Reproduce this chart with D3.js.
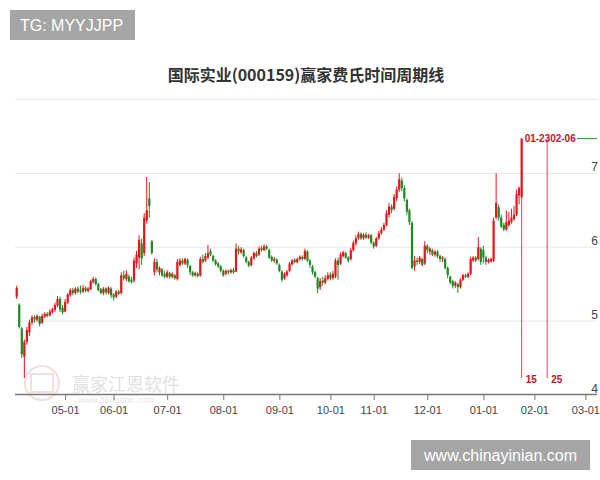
<!DOCTYPE html>
<html>
<head>
<meta charset="utf-8">
<script src="https://cdn.jsdelivr.net/npm/d3@7"></script>
<style>
    body { margin: 0; background: #fff; }
    svg { display: block; font-family: "Liberation Sans", Arial, sans-serif; }
</style>
</head>
<body>
<div id="chart"></div>
<script>
// daily candles by trading-day index: [open, high, low, close]
const candles = [
    [5.33,5.48,5.30,5.45],[5.22,5.24,4.90,4.92],[4.90,4.92,4.50,4.55],[4.52,4.75,4.23,4.72],[4.72,4.92,4.68,4.88],
    [4.85,5.02,4.80,4.98],[4.98,5.08,4.95,5.05],[5.06,5.08,4.98,5.02],[5.02,5.09,4.99,5.07],[5.06,5.07,4.93,4.96],
    [4.98,5.10,4.96,5.07],[5.06,5.12,5.04,5.10],[5.10,5.12,5.05,5.07],[5.08,5.16,5.06,5.13],[5.12,5.18,5.10,5.16],
    [5.15,5.25,5.12,5.22],[5.21,5.34,5.19,5.30],[5.30,5.33,5.12,5.16],[5.18,5.22,5.09,5.12],[5.13,5.30,5.12,5.26],
    [5.25,5.38,5.23,5.36],[5.35,5.45,5.33,5.42],[5.42,5.45,5.35,5.38],[5.38,5.46,5.36,5.44],[5.44,5.47,5.38,5.40],
    [5.42,5.48,5.37,5.40],[5.40,5.49,5.38,5.45],[5.45,5.47,5.39,5.41],[5.41,5.46,5.39,5.44],[5.43,5.56,5.42,5.54],
    [5.53,5.60,5.51,5.57],[5.57,5.59,5.48,5.50],[5.50,5.52,5.40,5.42],[5.43,5.45,5.36,5.38],[5.38,5.46,5.35,5.44],
    [5.44,5.46,5.36,5.39],[5.38,5.47,5.36,5.45],[5.44,5.46,5.31,5.35],[5.36,5.38,5.28,5.32],[5.33,5.42,5.31,5.40],
    [5.40,5.42,5.35,5.37],[5.38,5.66,5.36,5.62],[5.62,5.68,5.55,5.58],[5.57,5.69,5.54,5.64],[5.60,5.63,5.52,5.54],
    [5.56,5.60,5.51,5.53],[5.55,5.86,5.52,5.82],[5.78,5.95,5.72,5.90],[5.86,6.16,5.70,6.10],[6.05,6.12,5.76,5.85],
    [5.92,6.46,5.88,6.40],[6.36,6.95,6.32,6.50],[6.66,6.88,6.40,6.56],[6.08,6.10,5.90,5.92],[5.66,5.85,5.62,5.80],
    [5.80,5.84,5.66,5.70],[5.66,5.74,5.62,5.72],[5.70,5.72,5.60,5.62],[5.64,5.68,5.58,5.60],[5.60,5.69,5.58,5.66],
    [5.65,5.67,5.57,5.60],[5.60,5.66,5.58,5.64],[5.62,5.64,5.56,5.58],[5.57,5.84,5.55,5.80],[5.76,5.85,5.74,5.82],
    [5.82,5.85,5.76,5.78],[5.78,5.86,5.76,5.84],[5.83,5.85,5.72,5.76],[5.75,5.76,5.62,5.66],[5.66,5.68,5.60,5.62],
    [5.62,5.67,5.60,5.65],[5.64,5.66,5.59,5.61],[5.62,5.87,5.60,5.84],[5.84,5.90,5.78,5.80],[5.82,5.92,5.80,5.88],
    [5.86,6.03,5.84,5.92],[5.95,5.98,5.88,5.90],[5.88,5.90,5.80,5.82],[5.82,5.84,5.75,5.77],[5.78,5.80,5.72,5.74],
    [5.74,5.76,5.66,5.68],[5.68,5.70,5.60,5.62],[5.64,5.70,5.62,5.68],[5.68,5.70,5.63,5.66],[5.66,5.71,5.64,5.69],
    [5.69,5.72,5.64,5.66],[5.67,6.05,5.66,5.98],[5.98,6.02,5.90,5.94],[5.93,6.00,5.91,5.97],[5.96,5.98,5.86,5.88],
    [5.86,5.88,5.78,5.80],[5.80,5.82,5.73,5.75],[5.76,5.88,5.74,5.86],[5.85,5.94,5.83,5.92],[5.92,5.95,5.86,5.88],
    [5.90,6.01,5.88,5.98],[5.99,6.02,5.94,5.96],[5.96,6.04,5.95,6.01],[6.01,6.03,5.96,5.98],[5.96,5.98,5.84,5.86],
    [5.87,5.89,5.80,5.82],[5.82,5.87,5.79,5.84],[5.83,5.85,5.76,5.78],[5.76,5.78,5.66,5.68],[5.67,5.69,5.53,5.56],
    [5.58,5.66,5.56,5.64],[5.62,5.69,5.60,5.67],[5.68,5.80,5.66,5.78],[5.77,5.84,5.75,5.82],[5.83,5.85,5.78,5.80],
    [5.80,5.86,5.78,5.84],[5.84,5.89,5.82,5.87],[5.87,5.89,5.82,5.84],[5.84,5.98,5.83,5.95],[5.94,5.96,5.80,5.82],
    [5.82,5.84,5.72,5.76],[5.74,5.76,5.63,5.66],[5.66,5.68,5.58,5.60],[5.58,5.60,5.38,5.44],[5.46,5.58,5.42,5.54],
    [5.55,5.60,5.48,5.52],[5.52,5.62,5.50,5.58],[5.57,5.66,5.55,5.62],[5.63,5.66,5.55,5.58],[5.58,5.68,5.56,5.64],
    [5.60,5.85,5.58,5.82],[5.82,5.86,5.56,5.76],[5.78,5.93,5.76,5.90],[5.88,5.95,5.86,5.93],[5.92,5.94,5.84,5.86],
    [5.86,5.88,5.79,5.82],[5.84,5.99,5.82,5.96],[5.96,6.09,5.94,6.06],[6.05,6.16,6.02,6.12],[6.12,6.21,6.10,6.18],
    [6.18,6.20,6.10,6.12],[6.12,6.19,6.10,6.17],[6.17,6.20,6.11,6.13],[6.13,6.18,6.11,6.16],[6.16,6.18,6.04,6.06],
    [6.06,6.08,5.98,6.01],[6.02,6.14,6.00,6.12],[6.12,6.22,6.10,6.19],[6.19,6.27,6.17,6.24],[6.24,6.33,6.22,6.30],
    [6.30,6.50,6.28,6.46],[6.44,6.60,6.40,6.55],[6.55,6.58,6.46,6.50],[6.52,6.72,6.50,6.68],[6.66,6.82,6.62,6.78],
    [6.78,7.00,6.75,6.92],[6.90,6.94,6.76,6.80],[6.80,6.84,6.62,6.66],[6.64,6.66,6.44,6.48],[6.50,6.52,6.30,6.34],
    [6.33,6.35,5.70,5.72],[5.74,5.88,5.68,5.82],[5.82,5.86,5.76,5.80],[5.80,5.88,5.77,5.86],[5.84,5.86,5.74,5.76],
    [5.78,6.08,5.76,6.02],[6.02,6.04,5.92,5.96],[5.94,6.00,5.90,5.98],[5.96,5.98,5.88,5.90],[5.90,5.96,5.87,5.94],
    [5.94,5.96,5.85,5.88],[5.88,5.90,5.80,5.84],[5.84,5.88,5.80,5.86],[5.84,5.86,5.70,5.72],[5.72,5.74,5.58,5.62],
    [5.60,5.62,5.50,5.52],[5.54,5.56,5.44,5.48],[5.48,5.54,5.45,5.52],[5.50,5.52,5.38,5.46],[5.46,5.58,5.44,5.56],
    [5.56,5.64,5.54,5.62],[5.62,5.64,5.58,5.60],[5.60,5.66,5.58,5.64],[5.64,5.87,5.62,5.84],[5.82,5.88,5.80,5.86],
    [5.86,5.88,5.80,5.82],[5.84,6.14,5.82,6.00],[5.98,6.00,5.76,5.80],[5.96,6.02,5.78,5.86],[5.86,5.88,5.76,5.80],
    [5.80,5.85,5.78,5.83],[5.81,5.86,5.79,5.84],[5.82,6.40,5.80,6.36],[6.40,7.00,6.38,6.60],[6.54,6.58,6.36,6.40],
    [6.40,6.44,6.26,6.28],[6.30,6.33,6.22,6.24],[6.24,6.50,6.22,6.34],[6.30,6.48,6.28,6.36],[6.34,6.52,6.32,6.40],
    [6.38,6.56,6.36,6.44],[6.44,6.78,6.42,6.72],[6.70,6.82,6.58,6.80],[6.68,7.47,6.66,7.47]
];

// month ticks (trading-day index) and labels
const tickIdx = [19, 38, 59, 81, 103, 123, 140, 161, 183, 203, 223];
const tickLabels = ["05-01", "06-01", "07-01", "08-01", "09-01", "10-01", "11-01", "12-01", "01-01", "02-01", "03-01"];
const priceTicks = [4, 5, 6, 7];
const gridTicks = [5, 6, 7, 8];

// fibonacci time cycle marks
const cycleIdx = [198, 208];
const cycleDates = ["01-23", "02-06"];
const cycleDays = ["15", "25"];
const peakPrice = 7.47;

const width = 600, height = 480;
const up = "#e8141c", down = "#1f8a22", mark = "#c8102e";

const svg = d3.select("#chart").append("svg")
    .attr("width", width)
    .attr("height", height);

const x = d3.scaleLinear().domain([0, 223]).range([16.7, 585.4]);
const y = d3.scaleLinear().domain([4, 8]).range([395, 99.4]);

// title
svg.append("text")
    .attr("x", 306).attr("y", 81)
    .attr("text-anchor", "middle")
    .style("font-family", "'Noto Sans CJK SC', sans-serif")
    .style("font-weight", "bold")
    .style("font-size", "16px")
    .attr("fill", "#333")
    .text("国际实业(000159)赢家费氏时间周期线");

// grid lines
svg.append("g")
    .selectAll("line")
    .data(gridTicks)
    .enter().append("line")
    .attr("x1", 15).attr("x2", 597)
    .attr("y1", d => y(d)).attr("y2", d => y(d))
    .attr("stroke", "#e6e6e6");

// watermark
const wm = svg.append("g").attr("opacity", 0.55);
wm.append("circle").attr("cx", 42).attr("cy", 383).attr("r", 17)
    .attr("fill", "none").attr("stroke", "#e8c4c4").attr("stroke-width", 2);
wm.append("rect").attr("x", 31).attr("y", 374).attr("width", 22).attr("height", 18)
    .attr("fill", "none").attr("stroke", "#e8c4c4").attr("stroke-width", 2);
wm.append("text").attr("x", 72).attr("y", 391)
    .style("font-family", "'Noto Sans CJK SC', sans-serif")
    .style("font-size", "18px").attr("fill", "#c8c8c8")
    .text("赢家江恩软件");
wm.append("text").attr("x", 78).attr("y", 403)
    .style("font-size", "9px").attr("fill", "#d0d0d0")
    .text("www.360gann.com");

// cycle lines
const cyc = svg.append("g");
cyc.selectAll("line.cycle")
    .data(cycleIdx)
    .enter().append("line")
    .attr("class", "cycle")
    .attr("x1", d => x(d)).attr("x2", d => x(d))
    .attr("y1", y(peakPrice)).attr("y2", 378)
    .attr("stroke", "#d9485a").attr("stroke-width", 1);
cyc.selectAll("text.date")
    .data(cycleIdx)
    .enter().append("text")
    .attr("class", "date")
    .attr("x", d => x(d) + 3).attr("y", y(peakPrice) + 3.5)
    .style("font-size", "10px").style("font-weight", "bold")
    .attr("fill", mark)
    .text((d, i) => cycleDates[i]);
cyc.selectAll("text.days")
    .data(cycleIdx)
    .enter().append("text")
    .attr("class", "days")
    .attr("x", d => x(d) + 4).attr("y", 383)
    .style("font-size", "10px").style("font-weight", "bold")
    .attr("fill", mark)
    .text((d, i) => cycleDays[i]);
cyc.append("line")
    .attr("x1", 577).attr("x2", 597)
    .attr("y1", y(peakPrice)).attr("y2", y(peakPrice))
    .attr("stroke", "#2a9a2a");

// candles
const candle = svg.append("g")
    .selectAll("g")
    .data(candles)
    .enter().append("g")
    .attr("fill", d => d[3] >= d[0] ? up : down)
    .attr("stroke", d => d[3] >= d[0] ? up : down);

candle.append("line")
    .attr("x1", (d, i) => x(i)).attr("x2", (d, i) => x(i))
    .attr("y1", d => y(d[1])).attr("y2", d => y(d[2]))
    .attr("stroke-width", 1);

candle.append("rect")
    .attr("x", (d, i) => x(i) - 1.1)
    .attr("width", 2.2)
    .attr("y", d => y(Math.max(d[0], d[3])))
    .attr("height", d => Math.max(1, Math.abs(y(d[0]) - y(d[3]))))
    .attr("stroke", "none");

// x axis
svg.append("line")
    .attr("x1", 15).attr("x2", 597)
    .attr("y1", 394.5).attr("y2", 394.5)
    .attr("stroke", "#777").attr("stroke-width", 1.5);

const xAxis = svg.append("g")
    .attr("transform", "translate(0,395)")
    .call(d3.axisBottom(x)
        .tickValues(tickIdx)
        .tickFormat((d, i) => tickLabels[i])
        .tickSize(5)
        .tickPadding(6));
xAxis.select(".domain").remove();
xAxis.selectAll(".tick line").attr("stroke", "#777");
xAxis.selectAll(".tick text")
    .attr("fill", "#444")
    .style("font-size", "11px")
    .style("font-family", "'Liberation Sans', Arial, sans-serif");

// price labels
const yAxis = svg.append("g")
    .attr("transform", "translate(598,0)")
    .call(d3.axisLeft(y)
        .tickValues(priceTicks)
        .tickFormat(d3.format("d"))
        .tickSize(0)
        .tickPadding(0));
yAxis.select(".domain").remove();
yAxis.selectAll(".tick text")
    .attr("dy", "-0.2em")
    .attr("fill", "#444")
    .style("font-size", "12px")
    .style("font-family", "'Liberation Sans', Arial, sans-serif");

// overlay badges
svg.append("rect").attr("x", 10).attr("y", 10).attr("width", 125).attr("height", 30).attr("fill", "#a5a5a5");
svg.append("text").attr("x", 20).attr("y", 31)
    .style("font-size", "16px").attr("fill", "#fff")
    .text("TG: MYYJJPP");
svg.append("rect").attr("x", 411).attr("y", 440).attr("width", 179).attr("height", 30).attr("fill", "#a5a5a5");
svg.append("text").attr("x", 500.5).attr("y", 461)
    .attr("text-anchor", "middle")
    .style("font-size", "16px").attr("fill", "#fff")
    .text("www.chinayinian.com");
</script>
</body>
</html>
